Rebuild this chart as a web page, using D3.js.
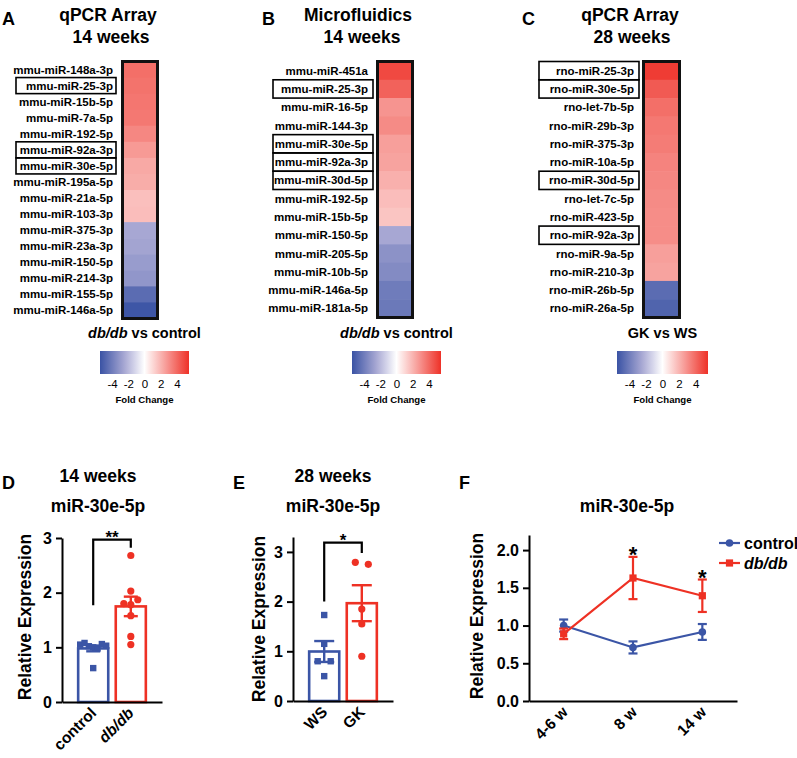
<!DOCTYPE html>
<html><head><meta charset="utf-8">
<script src="https://cdn.jsdelivr.net/npm/d3@7"></script>
<style>
body{margin:0;background:#fff}
svg{display:block}
text{font-family:'Liberation Sans',Arial,Helvetica,sans-serif}
</style>
</head><body>
<svg id="chart" width="797" height="758"></svg>
<script>
// ---------------- DATA ----------------
const aLabels = ["mmu-miR-148a-3p","mmu-miR-25-3p","mmu-miR-15b-5p","mmu-miR-7a-5p","mmu-miR-192-5p","mmu-miR-92a-3p","mmu-miR-30e-5p","mmu-miR-195a-5p","mmu-miR-21a-5p","mmu-miR-103-3p","mmu-miR-375-3p","mmu-miR-23a-3p","mmu-miR-150-5p","mmu-miR-214-3p","mmu-miR-155-5p","mmu-miR-146a-5p"];
const aValues = [3.85,3.75,3.65,3.6,3.2,2.7,2.3,2.2,1.7,1.75,-2.5,-2.6,-2.9,-3.1,-4.6,-5.4];
const aBoxed = ["mmu-miR-25-3p","mmu-miR-92a-3p","mmu-miR-30e-5p"];

const bLabels = ["mmu-miR-451a","mmu-miR-25-3p","mmu-miR-16-5p","mmu-miR-144-3p","mmu-miR-30e-5p","mmu-miR-92a-3p","mmu-miR-30d-5p","mmu-miR-192-5p","mmu-miR-15b-5p","mmu-miR-150-5p","mmu-miR-205-5p","mmu-miR-10b-5p","mmu-miR-146a-5p","mmu-miR-181a-5p"];
const bValues = [4.85,4.2,2.85,3.1,2.55,2.45,2.1,1.75,1.55,-2.5,-3.25,-3.5,-4.05,-4.15];
const bBoxed = ["mmu-miR-25-3p","mmu-miR-30e-5p","mmu-miR-92a-3p","mmu-miR-30d-5p"];

const cLabels = ["rno-miR-25-3p","rno-miR-30e-5p","rno-let-7b-5p","rno-miR-29b-3p","rno-miR-375-3p","rno-miR-10a-5p","rno-miR-30d-5p","rno-let-7c-5p","rno-miR-423-5p","rno-miR-92a-3p","rno-miR-9a-5p","rno-miR-210-3p","rno-miR-26b-5p","rno-miR-26a-5p"];
const cValues = [5.2,4.4,3.85,3.6,3.5,3.3,3.2,3.1,3.05,3.05,2.55,2.45,-4.6,-4.9];
const cBoxed = ["rno-miR-25-3p","rno-miR-30e-5p","rno-miR-30d-5p","rno-miR-92a-3p"];

const colorbarTicks = [-4,-2,0,2,4];

const dGroups = ["control","db/db"];
const dControl = [1.05,1.08,1.02,1.00,0.98,1.06,1.03,0.62];
const dDbdb = [2.68,2.03,1.80,1.78,1.87,1.58,1.20,1.05];
const dTicks = [0,1,2,3];

const eGroups = ["WS","GK"];
const eWS = [1.73,1.15,0.80,0.80,0.50];
const eGK = [2.79,2.75,1.85,1.55,0.90];
const eTicks = [0,1,2,3];

const fTimes = ["4-6 w","8 w","14 w"];
const fControlMean = [1.00,0.71,0.915];
const fControlSem = [0.08,0.08,0.105];
const fDbMean = [0.89,1.63,1.395];
const fDbSem = [0.07,0.28,0.215];
const fSig = [false,true,true];
const fTicks = [0,0.5,1.0,1.5,2.0];

// ---------------- STYLE ----------------
const BLUE = "#3b55a6", RED = "#ee3124";
const HBLUE = "#3a53a4", HLAV = "#a7a7d3", HRED = "#ee3128";
const svg = d3.select("#chart");
const color = d3.scaleLinear().domain([-5.5,-2.5,0,5.5]).range([HBLUE,HLAV,"#ffffff",HRED]);

function text(g, x, y, s, size, o = {}) {
  return g.append("text").attr("x", x).attr("y", y).text(s)
    .attr("font-size", size).attr("font-weight", o.weight || "bold")
    .attr("text-anchor", o.anchor || "start").attr("fill", "#000")
    .attr("font-style", o.italic ? "italic" : "normal");
}

// ---------------- HEATMAPS ----------------
function heatmap(cfg) {
  const g = svg.append("g");
  const y = d3.scaleBand().domain(cfg.labels).range([cfg.y0, cfg.y1]);
  cfg.labels.forEach((l, i) => {
    g.append("rect").attr("x", cfg.x0).attr("y", y(l)).attr("width", cfg.x1 - cfg.x0)
      .attr("height", y.bandwidth() + 0.6).attr("fill", color(cfg.values[i]));
    text(g, cfg.x0 - 9.5, y(l) + y.bandwidth() / 2 + 4, l, 11.5, {anchor: "end"});
    if (cfg.boxed.includes(l)) {
      g.append("rect").attr("x", cfg.boxX).attr("y", y(l)).attr("width", 100)
        .attr("height", y.bandwidth()).attr("fill", "none").attr("stroke", "#000").attr("stroke-width", 1.6);
    }
  });
  g.append("rect").attr("x", cfg.x0).attr("y", cfg.y0).attr("width", cfg.x1 - cfg.x0)
    .attr("height", cfg.y1 - cfg.y0).attr("fill", "none").attr("stroke", "#111").attr("stroke-width", 3);
  text(g, cfg.letterX, 25, cfg.letter, 18);
  text(g, cfg.t1x, 21, cfg.title1, 17.5, {anchor: "middle"});
  text(g, cfg.t2x, 43, cfg.title2, 17.5, {anchor: "middle"});
  // colorbar
  const cb = cfg.cb;
  const id = "grad" + cfg.letter;
  const grad = svg.append("defs").append("linearGradient").attr("id", id);
  d3.range(0, 1.0001, 0.05).forEach(t => {
    grad.append("stop").attr("offset", t).attr("stop-color", color(-5.5 + 11 * t));
  });
  g.append("rect").attr("x", cb.x0).attr("y", 351).attr("width", cb.x1 - cb.x0).attr("height", 23)
    .attr("fill", `url(#${id})`);
  const xs = d3.scaleLinear().domain([-5.5, 5.5]).range([cb.x0, cb.x1]);
  const ax = g.append("g").attr("transform", "translate(0,374)")
    .call(d3.axisBottom(xs).tickValues(colorbarTicks).tickSize(0).tickPadding(6).tickFormat(d => d < 0 ? "-" + (-d) : d));
  ax.select(".domain").remove();
  ax.selectAll("text").attr("font-size", 11.5).attr("fill", "#000")
    .attr("font-family", "'Liberation Sans',Arial,sans-serif");
  const cx = (cb.x0 + cb.x1) / 2;
  text(g, cx, 403, "Fold Change", 9.6, {anchor: "middle"});
  const st = text(g, cx, 338, "", 14.5, {anchor: "middle"});
  cfg.subtitle.forEach(p => st.append("tspan").text(p.t).attr("font-style", p.it ? "italic" : "normal"));
}

heatmap({labels: aLabels, values: aValues, boxed: aBoxed, x0: 122.5, x1: 157.5, y0: 61.5, y1: 318.5,
  boxX: 16, letter: "A", letterX: 2, title1: "qPCR Array", title2: "14 weeks", t1x: 108, t2x: 111,
  cb: {x0: 100, x1: 189}, subtitle: [{t: "db/db", it: true}, {t: " vs control"}]});
heatmap({labels: bLabels, values: bValues, boxed: bBoxed, x0: 377.5, x1: 412.5, y0: 61.5, y1: 317.5,
  boxX: 273, letter: "B", letterX: 262, title1: "Microfluidics", title2: "14 weeks", t1x: 358, t2x: 362,
  cb: {x0: 352, x1: 441}, subtitle: [{t: "db/db", it: true}, {t: " vs control"}]});
heatmap({labels: cLabels, values: cValues, boxed: cBoxed, x0: 643.5, x1: 679.5, y0: 61.5, y1: 317.5,
  boxX: 539, letter: "C", letterX: 522, title1: "qPCR Array", title2: "28 weeks", t1x: 630, t2x: 632,
  cb: {x0: 617, x1: 708}, subtitle: [{t: "GK vs WS"}]});

// ---------------- BAR PANELS ----------------
function styleAxis(ax, size) {
  ax.selectAll("path,line").attr("stroke", "#000").attr("stroke-width", 2);
  ax.selectAll("text").attr("font-size", size).attr("font-weight", "bold").attr("fill", "#000")
    .attr("font-family", "'Liberation Sans',Arial,sans-serif");
}

function spread(vals, ys, xc) {
  const idx = vals.map((v, i) => i).sort((a, b) => ys(vals[a]) - ys(vals[b]));
  const clusters = [];
  idx.forEach((i, k) => {
    if (k > 0 && Math.abs(ys(vals[i]) - ys(vals[idx[k - 1]])) < 6) clusters[clusters.length - 1].push(i);
    else clusters.push([i]);
  });
  const xs = [];
  clusters.forEach(c => {
    c.sort((a, b) => a - b);
    const n = c.length;
    const dx = n === 2 ? 13 : Math.min(7, 26 / Math.max(1, n - 1));
    c.forEach((i, k) => { xs[i] = xc + (k - (n - 1) / 2) * dx; });
  });
  return xs;
}

function barPanel(cfg) {
  const g = svg.append("g");
  const y = d3.scaleLinear().domain(cfg.yDomain).range(cfg.yRange);
  const x = d3.scaleBand().domain(cfg.groups).range(cfg.xRange).paddingInner(0.2).paddingOuter(0.43);
  const colors = [BLUE, RED];
  cfg.series.forEach((vals, gi) => {
    const grp = cfg.groups[gi];
    const m = d3.mean(vals), sem = d3.deviation(vals) / Math.sqrt(vals.length);
    const xc = x(grp) + x.bandwidth() / 2;
    g.append("rect").attr("x", x(grp)).attr("y", y(m)).attr("width", x.bandwidth())
      .attr("height", y(0) - y(m)).attr("fill", "#fff").attr("stroke", colors[gi]).attr("stroke-width", 2.6);
    const xs = spread(vals, y, xc);
    vals.forEach((v, i) => {
      if (gi === 0) g.append("rect").attr("x", xs[i] - 3.2).attr("y", y(v) - 3.2).attr("width", 6.4).attr("height", 6.4).attr("fill", colors[gi]);
      else g.append("circle").attr("cx", xs[i]).attr("cy", y(v)).attr("r", 3.6).attr("fill", colors[gi]);
    });
    g.append("line").attr("x1", xc).attr("x2", xc).attr("y1", y(m - sem)).attr("y2", y(m + sem))
      .attr("stroke", colors[gi]).attr("stroke-width", 2.4);
    [m - sem, m + sem].forEach(v => g.append("line").attr("x1", xc - cfg.capW / 2).attr("x2", xc + cfg.capW / 2)
      .attr("y1", y(v)).attr("y2", y(v)).attr("stroke", colors[gi]).attr("stroke-width", 2.4));
    g.append("text").attr("transform", `translate(${xc + 4},${cfg.yRange[0] + 12}) rotate(-45)`)
      .attr("text-anchor", "end").attr("font-size", 15.5).attr("font-weight", "bold")
      .attr("font-style", grp === "db/db" ? "italic" : "normal").text(grp);
  });
  const ya = g.append("g").attr("transform", `translate(${cfg.xRange[0]},0)`)
    .call(d3.axisLeft(y).tickValues(cfg.ticks).tickFormat(d3.format("d")).tickSize(6).tickSizeOuter(0).tickPadding(4));
  styleAxis(ya, 16);
  const xa = g.append("g").attr("transform", `translate(0,${cfg.yRange[0]})`)
    .call(d3.axisBottom(x).tickSize(0).tickSizeOuter(0).tickFormat(""));
  styleAxis(xa, 16);
  const c0 = x(cfg.groups[0]) + x.bandwidth() / 2, c1 = x(cfg.groups[1]) + x.bandwidth() / 2;
  const b = cfg.bracket;
  g.append("path").attr("d", `M${c0},${y(b.left)}V${y(b.top)}H${c1}V${y(b.right)}`)
    .attr("fill", "none").attr("stroke", "#000").attr("stroke-width", 2.2);
  text(g, (c0 + c1) / 2, y(b.top) + 3.5, cfg.sig, 17, {anchor: "middle"});
  g.append("text").attr("transform", `translate(${cfg.yLabelX},${cfg.yLabelY}) rotate(-90)`)
    .attr("text-anchor", "middle").attr("font-size", 17.5).attr("font-weight", "bold").text("Relative Expression");
  text(g, cfg.letterX, 489, cfg.letter, 18);
  if (cfg.title1) text(g, cfg.tx, 482, cfg.title1, 17.5, {anchor: "middle"});
  text(g, cfg.tx, 512, "miR-30e-5p", 17.5, {anchor: "middle"});
}

barPanel({groups: dGroups, series: [dControl, dDbdb], yDomain: [0, 3], yRange: [702, 538], xRange: [62, 162],
  ticks: dTicks, capW: 14, bracket: {left: 1.77, top: 2.97, right: 2.82}, sig: "**",
  yLabelX: 31, yLabelY: 617, letter: "D", letterX: 2, title1: "14 weeks", tx: 98});
barPanel({groups: eGroups, series: [eWS, eGK], yDomain: [0, 3.3], yRange: [701, 537], xRange: [293, 393],
  ticks: eTicks, capW: 20, bracket: {left: 2.0, top: 3.185, right: 2.98}, sig: "*",
  yLabelX: 265, yLabelY: 619, letter: "E", letterX: 233, title1: "28 weeks", tx: 333});

// ---------------- LINE PANEL F ----------------
(function () {
  const g = svg.append("g");
  const y = d3.scaleLinear().domain([0, 2.2]).range([701, 535]);
  const x = d3.scalePoint().domain(fTimes).range([529, 737]).padding(0.5);
  const series = [
    {mean: fControlMean, sem: fControlSem, color: BLUE, shape: "circle", name: "control", it: false},
    {mean: fDbMean, sem: fDbSem, color: RED, shape: "square", name: "db/db", it: true}
  ];
  const line = d3.line().x((d, i) => x(fTimes[i])).y(d => y(d));
  function marker(gg, cx, cy, s) {
    if (s.shape === "circle") gg.append("circle").attr("cx", cx).attr("cy", cy).attr("r", 3.8).attr("fill", s.color);
    else gg.append("rect").attr("x", cx - 3.6).attr("y", cy - 3.6).attr("width", 7.2).attr("height", 7.2).attr("fill", s.color);
  }
  series.forEach(s => {
    g.append("path").attr("d", line(s.mean)).attr("fill", "none").attr("stroke", s.color).attr("stroke-width", 2.2);
    s.mean.forEach((m, i) => {
      const xc = x(fTimes[i]);
      g.append("line").attr("x1", xc).attr("x2", xc).attr("y1", y(m - s.sem[i])).attr("y2", y(m + s.sem[i]))
        .attr("stroke", s.color).attr("stroke-width", 2.2);
      [m - s.sem[i], m + s.sem[i]].forEach(v => g.append("line").attr("x1", xc - 4.5).attr("x2", xc + 4.5)
        .attr("y1", y(v)).attr("y2", y(v)).attr("stroke", s.color).attr("stroke-width", 2.2));
      marker(g, xc, y(m), s);
    });
  });
  fSig.forEach((sg, i) => {
    if (sg) text(g, x(fTimes[i]), y(fDbMean[i] + fDbSem[i]) + 5.5, "*", 22, {anchor: "middle"});
  });
  const ya = g.append("g").attr("transform", "translate(529,0)")
    .call(d3.axisLeft(y).tickValues(fTicks).tickFormat(d3.format(".1f")).tickSize(6).tickSizeOuter(0).tickPadding(4));
  styleAxis(ya, 16);
  const xa = g.append("g").attr("transform", "translate(0,701)")
    .call(d3.axisBottom(x).tickSize(0).tickSizeOuter(0).tickFormat(""));
  styleAxis(xa, 16);
  fTimes.forEach(t => {
    g.append("text").attr("transform", `translate(${x(t) + 5},713) rotate(-45)`)
      .attr("text-anchor", "end").attr("font-size", 15.5).attr("font-weight", "bold").text(t);
  });
  g.append("text").attr("transform", "translate(483,616) rotate(-90)")
    .attr("text-anchor", "middle").attr("font-size", 17.5).attr("font-weight", "bold").text("Relative Expression");
  text(g, 459, 489, "F", 18);
  text(g, 627, 512, "miR-30e-5p", 17.5, {anchor: "middle"});
  series.forEach((s, i) => {
    const ly = 543 + i * 20;
    g.append("line").attr("x1", 719).attr("x2", 740).attr("y1", ly).attr("y2", ly).attr("stroke", s.color).attr("stroke-width", 2.2);
    marker(g, 729.5, ly, s);
    text(g, 744, ly + 6, s.name, 16, {italic: s.it});
  });
})();
</script>
</body></html>
